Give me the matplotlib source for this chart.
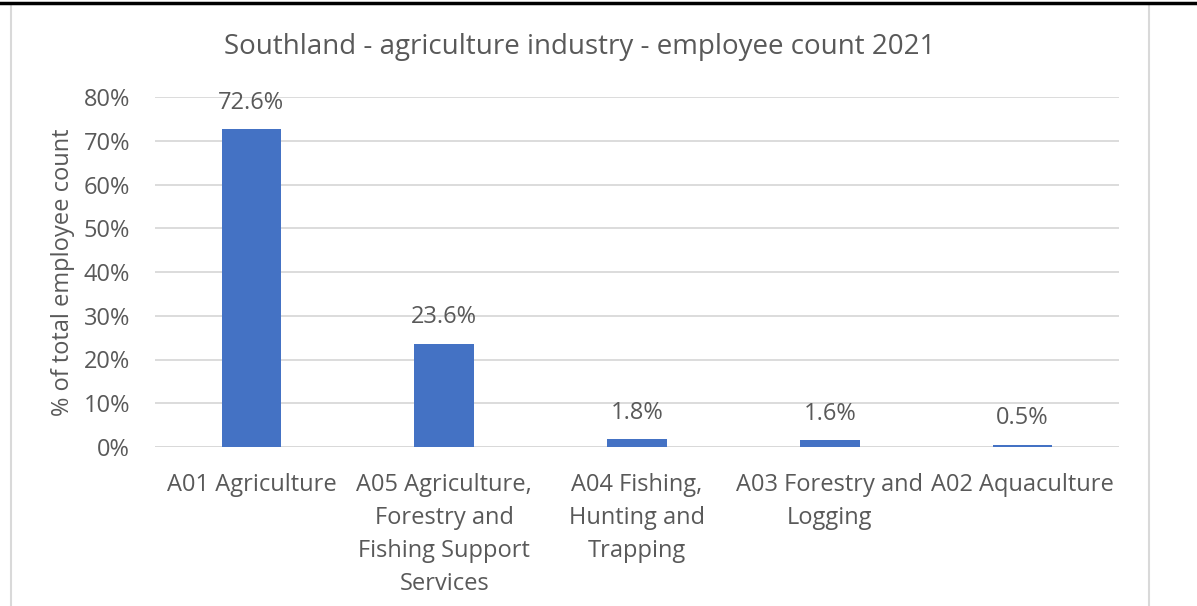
import matplotlib
matplotlib.use("Agg")
import matplotlib.pyplot as plt
from matplotlib.lines import Line2D
from matplotlib.patches import Rectangle

categories = [
    "A01 Agriculture",
    "A05 Agriculture,\nForestry and\nFishing Support\nServices",
    "A04 Fishing,\nHunting and\nTrapping",
    "A03 Forestry and\nLogging",
    "A02 Aquaculture",
]
values = [72.6, 23.6, 1.8, 1.6, 0.5]
y_ticks = [0, 10, 20, 30, 40, 50, 60, 70, 80]
title = "Southland - agriculture industry - employee count 2021"
y_label = "% of total employee count"

plt.rcParams["font.family"] = ["Open Sans", "DejaVu Sans"]
TEXT = "#595959"
FS = 17

W, H = 1197, 606
fig = plt.figure(figsize=(W / 100, H / 100), dpi=100)

# page rule and chart frame
fig.add_artist(Line2D([0, 1], [1 - 2.5 / H, 1 - 2.5 / H], color="black", lw=2.5))
fig.add_artist(Rectangle((10.5 / W, -0.05), (1149 - 10.5) / W, 1.05 - 4.5 / H,
                         fill=False, edgecolor="#D9D9D9", lw=1.5))

ax = fig.add_axes([155 / W, 1 - 447 / H, (1119 - 155) / W, (447 - 97) / H])
x = range(len(categories))
ax.bar(x, values, width=0.31, color="#4472C4", zorder=3)
ax.set_xlim(-0.5, len(categories) - 0.5)
ax.set_ylim(0, 80)
ax.set_yticks(y_ticks)
ax.set_yticklabels([f"{v}%" for v in y_ticks], color=TEXT, fontsize=FS)
ax.set_xticks(list(x))
ax.set_xticklabels(categories, color=TEXT, fontsize=FS, linespacing=1.49, va="top")
ax.tick_params(axis="both", length=0)
ax.tick_params(axis="x", pad=18.8)
ax.tick_params(axis="y", pad=18)
ax.grid(axis="y", color="#D9D9D9", lw=1.3, zorder=0)
for s in ax.spines.values():
    s.set_visible(False)
ax.axhline(0, color="#D9D9D9", lw=1.3, zorder=2)

for xi, v in zip(x, values):
    ax.annotate(f"{v:.1f}%", (xi, v), xytext=(0, 19), textcoords="offset points",
                ha="center", va="center", color=TEXT, fontsize=FS)

ax.set_ylabel(y_label, color=TEXT, fontsize=FS, labelpad=6)
fig.text(580 / W, 1 - 47 / H, title, ha="center", va="center", color=TEXT, fontsize=20)

fig.savefig("out.png", dpi=100, facecolor="white")
